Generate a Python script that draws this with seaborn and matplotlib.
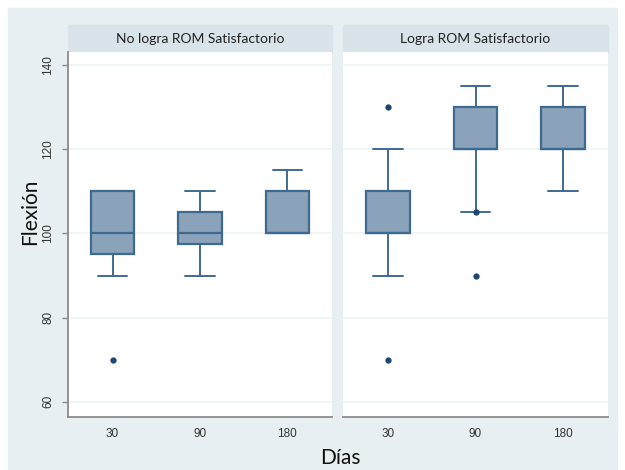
import seaborn as sns
import matplotlib.pyplot as plt
from matplotlib.patches import Rectangle

days = ["30", "90", "180"]
groups = ["No logra ROM Satisfactorio", "Logra ROM Satisfactorio"]

# box summaries (one list per group, one value per day)
q1 = [[95, 97.5, 100], [100, 120, 120]]
med = [[100, 100, 100], [100, 120, 120]]
q3 = [[110, 105, 110], [110, 130, 130]]
whis_lo = [[90, 90, 100], [90, 105, 110]]
whis_hi = [[110, 110, 115], [120, 135, 135]]
outliers = [[[70], [], []], [[130, 70], [105, 90], []]]

yticks = [60, 80, 100, 120, 140]

sns.set_theme(style="white")
plt.rcParams["font.family"] = ["Lato", "DejaVu Sans"]

BG = "#e8eff2"
STRIP = "#d8e3ea"
FILL = "#8ba3ba"
EDGE = "#3f6a8f"
DOT = "#1d4575"
AXIS = "#8c8c8c"

fig = plt.figure(figsize=(6.25, 4.70), dpi=100)
fig.patch.set_facecolor("white")
fig.patches.append(Rectangle((8 / 625, 0), 609 / 625, 462 / 470,
                             transform=fig.transFigure, color=BG, zorder=-10))

lefts = [68, 343]
widths = [264, 265]
top, bottom = 52, 417

for g, name in enumerate(groups):
    ax = fig.add_axes([lefts[g] / 625, (470 - bottom) / 470,
                       widths[g] / 625, (bottom - top) / 470])
    ax.set_facecolor("white")

    stats = []
    for i, d in enumerate(days):
        stats.append(dict(q1=q1[g][i], med=med[g][i], q3=q3[g][i],
                          whislo=whis_lo[g][i], whishi=whis_hi[g][i],
                          fliers=outliers[g][i], label=d))

    ax.bxp(stats, positions=[1, 2, 3], widths=0.5, capwidths=0.34,
           patch_artist=True,
           boxprops=dict(facecolor=FILL, edgecolor=EDGE, linewidth=1.6),
           medianprops=dict(color=EDGE, linewidth=1.6),
           whiskerprops=dict(color=EDGE, linewidth=1.4),
           capprops=dict(color=EDGE, linewidth=1.4),
           flierprops=dict(marker="o", markersize=3.5, markerfacecolor=DOT,
                           markeredgecolor=DOT))

    ax.set_xlim(0.49, 3.51)
    ax.set_ylim(56.4, 143.1)
    ax.set_yticks(yticks)
    for y in yticks:
        ax.axhline(y, color="#edf3f4", linewidth=1.2, zorder=0)

    for s in ["top", "right"]:
        ax.spines[s].set_visible(False)
    ax.spines["bottom"].set_color(AXIS)
    ax.spines["bottom"].set_linewidth(1.3)
    ax.tick_params(axis="x", length=0, pad=8, labelsize=8.5, labelcolor="#333333")
    for lab in ax.get_xticklabels():
        lab.set_fontfamily(["Liberation Sans", "DejaVu Sans"])

    if g == 0:
        ax.spines["left"].set_color(AXIS)
        ax.spines["left"].set_linewidth(1.3)
        ax.tick_params(axis="y", left=True, length=4, width=1, color=AXIS,
                       pad=6, labelsize=8.5, labelcolor="#333333")
        for lab in ax.get_yticklabels():
            lab.set_rotation(90)
            lab.set_va("center")
            lab.set_fontfamily(["Liberation Sans", "DejaVu Sans"])
    else:
        ax.spines["left"].set_visible(False)
        ax.tick_params(axis="y", left=False, labelleft=False)

    # facet strip
    fig.patches.append(Rectangle((lefts[g] / 625, (470 - top) / 470),
                                 widths[g] / 625, 27 / 470,
                                 transform=fig.transFigure, color=STRIP, zorder=-5))
    fig.text((lefts[g] + widths[g] / 2) / 625, (470 - 39) / 470, name,
             ha="center", va="center", fontsize=10, color="#222222")

fig.text(30 / 625, (470 - 212) / 470, "Flexión", rotation=90,
         ha="center", va="center", fontsize=15, color="#111111")
fig.text(340 / 625, (470 - 458) / 470, "Días",
         ha="center", va="center", fontsize=15, color="#111111")

fig.savefig("out.png", dpi=100, facecolor=fig.get_facecolor())
